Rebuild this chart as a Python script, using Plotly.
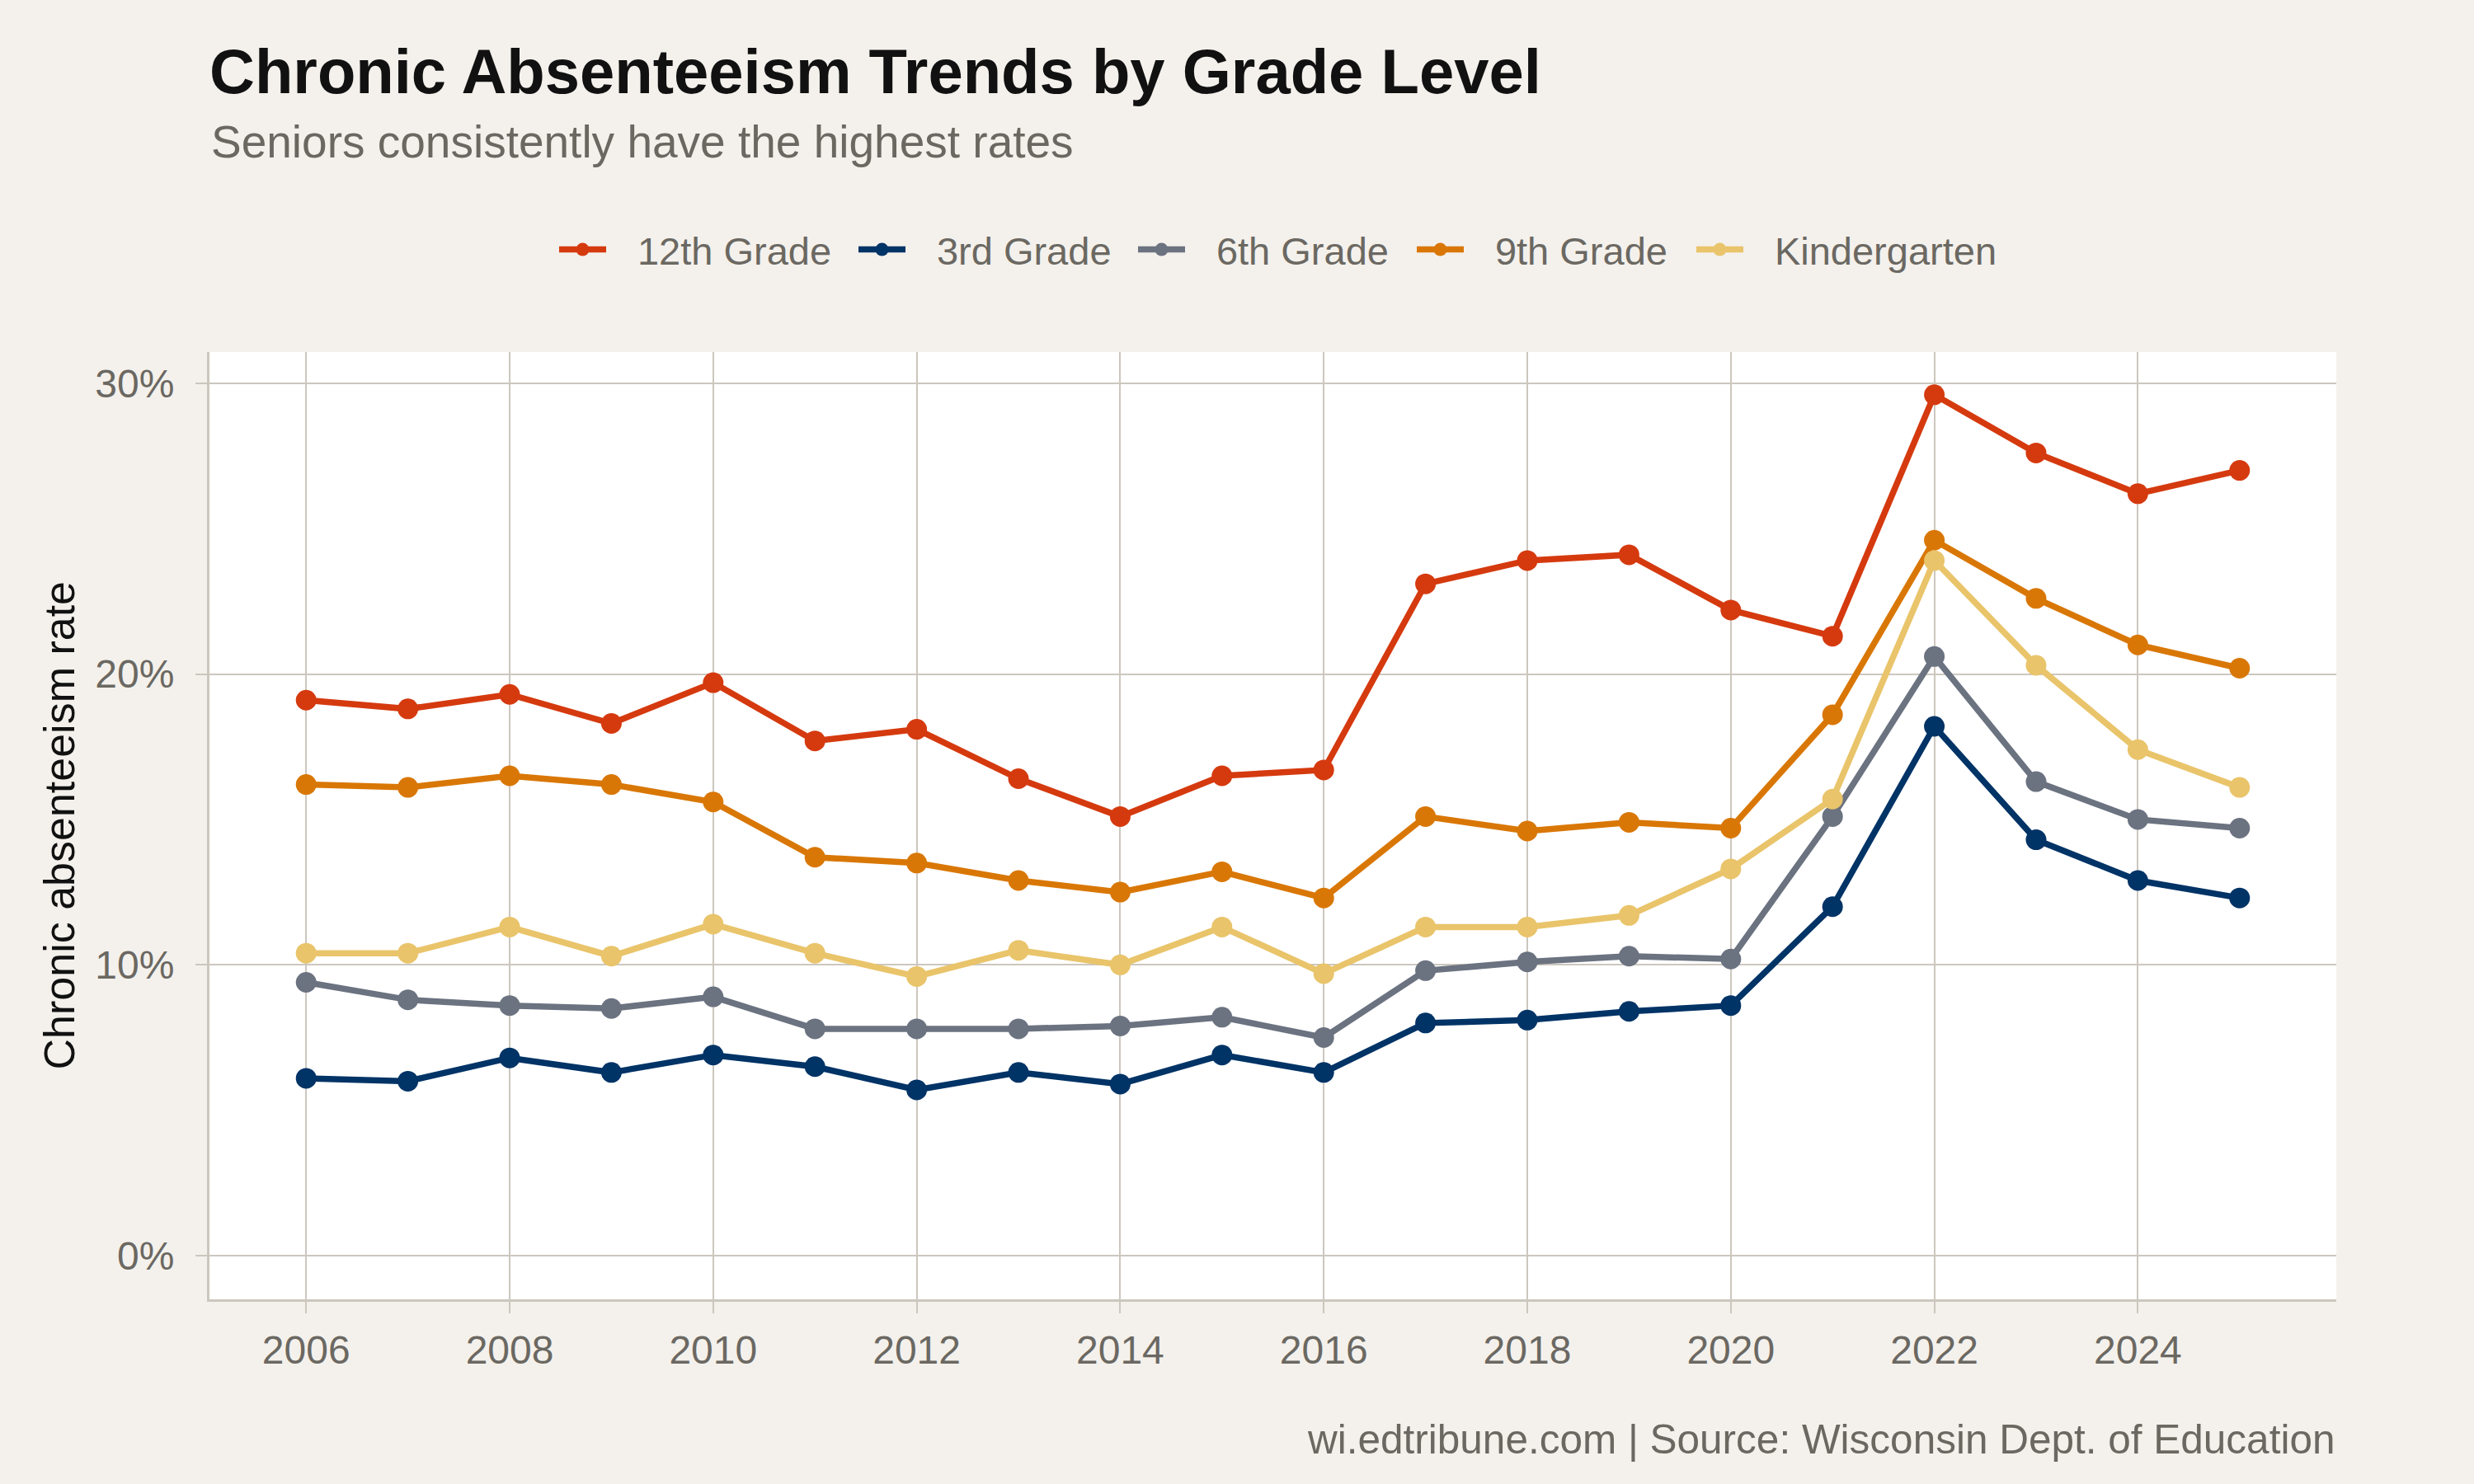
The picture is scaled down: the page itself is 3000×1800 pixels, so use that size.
import plotly.graph_objects as go

years = list(range(2006, 2026))

grade_12 = [19.1, 18.8, 19.3, 18.3, 19.7, 17.7, 18.1, 16.4, 15.1, 16.5,
            16.7, 23.1, 23.9, 24.1, 22.2, 21.3, 29.6, 27.6, 26.2, 27.0]
grade_3 = [6.1, 6.0, 6.8, 6.3, 6.9, 6.5, 5.7, 6.3, 5.9, 6.9,
           6.3, 8.0, 8.1, 8.4, 8.6, 12.0, 18.2, 14.3, 12.9, 12.3]
grade_6 = [9.4, 8.8, 8.6, 8.5, 8.9, 7.8, 7.8, 7.8, 7.9, 8.2,
           7.5, 9.8, 10.1, 10.3, 10.2, 15.1, 20.6, 16.3, 15.0, 14.7]
grade_9 = [16.2, 16.1, 16.5, 16.2, 15.6, 13.7, 13.5, 12.9, 12.5, 13.2,
           12.3, 15.1, 14.6, 14.9, 14.7, 18.6, 24.6, 22.6, 21.0, 20.2]
kindergarten = [10.4, 10.4, 11.3, 10.3, 11.4, 10.4, 9.6, 10.5, 10.0, 11.3,
                9.7, 11.3, 11.3, 11.7, 13.3, 15.7, 23.9, 20.3, 17.4, 16.1]

series_names = ["12th Grade", "3rd Grade", "6th Grade", "9th Grade", "Kindergarten"]
series_values = [grade_12, grade_3, grade_6, grade_9, kindergarten]
series_colors = ["#D53A0F", "#003366", "#6B7280", "#D97706", "#E9C46A"]

x_tick_vals = [2006, 2008, 2010, 2012, 2014, 2016, 2018, 2020, 2022, 2024]
y_tick_vals = [0, 10, 20, 30]
y_tick_text = ["0%", "10%", "20%", "30%"]

title_text = "<b>Chronic Absenteeism Trends by Grade Level</b>"
subtitle_text = "Seniors consistently have the highest rates"
y_title_text = "Chronic absenteeism rate"
caption_text = "wi.edtribune.com | Source: Wisconsin Dept. of Education"

BG = "#F4F1EC"
GRID = "#CCC7BE"
TXT_GRAY = "#6B6862"
FONT = "Liberation Sans, Arial, Helvetica, sans-serif"

W, H = 3000, 1800
L, R, T, B = 254, 167, 427, 224

pw = W - L - R
ph = H - T - B


def px_x(px):
    return (px - L) / pw


def px_y(py):
    return (H - B - py) / ph


# left pixel edge of each legend key in the reference
legend_key_px = [679, 1042, 1381, 1719, 2058]
legend_ids = ["legend", "legend2", "legend3", "legend4", "legend5"]
KEY_GAP = "\u2002\u2009"  # spacing between legend key and label

fig = go.Figure()
for name, vals, col, lid in zip(series_names, series_values, series_colors, legend_ids):
    fig.add_trace(go.Scatter(
        x=years, y=vals, name=KEY_GAP + name, mode="lines+markers",
        line=dict(color=col, width=7.5),
        marker=dict(color=col, size=25),
        legend=lid,
    ))

legend_layout = {}
for lid, kx in zip(legend_ids, legend_key_px):
    legend_layout[lid] = dict(
        orientation="h",
        x=px_x(kx - 6), xanchor="left",
        y=px_y(303), yanchor="middle",
        font=dict(family=FONT, size=47, color=TXT_GRAY),
        bgcolor="rgba(0,0,0,0)",
        borderwidth=0,
        itemwidth=57,
    )

fig.update_layout(
    width=W, height=H,
    margin=dict(l=L, r=R, t=T, b=B, pad=0),
    paper_bgcolor=BG,
    plot_bgcolor="white",
    font=dict(family=FONT, color=TXT_GRAY, size=48),
    title=dict(
        text=title_text,
        font=dict(family=FONT, size=76, color="#111111"),
        xref="paper", x=0, xanchor="left",
        yref="container", y=1 - 86 / H, yanchor="middle",
    ),
    showlegend=True,
    xaxis=dict(
        range=[2005.05, 2025.95],
        tickvals=x_tick_vals,
        showgrid=True, gridcolor=GRID, gridwidth=2,
        zeroline=False,
        showline=True, linecolor=GRID, linewidth=3,
        ticks="outside", ticklen=14, tickwidth=2, tickcolor=GRID,
        tickfont=dict(family=FONT, size=48, color=TXT_GRAY),
        ticklabelstandoff=3,
        fixedrange=True,
    ),
    yaxis=dict(
        range=[-1.5, 31.07],
        tickvals=y_tick_vals,
        ticktext=y_tick_text,
        showgrid=True, gridcolor=GRID, gridwidth=2,
        zeroline=False,
        showline=True, linecolor=GRID, linewidth=3,
        ticks="outside", ticklen=14, tickwidth=2, tickcolor=GRID,
        tickfont=dict(family=FONT, size=48, color=TXT_GRAY),
        ticklabelstandoff=16,
        fixedrange=True,
    ),
    annotations=[
        dict(
            text=subtitle_text, showarrow=False,
            xref="paper", x=0, xanchor="left",
            yref="paper", y=px_y(172), yanchor="middle",
            font=dict(family=FONT, size=55, color=TXT_GRAY),
        ),
        dict(
            text=y_title_text, showarrow=False, textangle=-90,
            xref="paper", x=px_x(71), xanchor="center",
            yref="paper", y=0.5, yanchor="middle",
            font=dict(family=FONT, size=52, color="#111111"),
        ),
        dict(
            text=caption_text, showarrow=False,
            xref="paper", x=1, xanchor="right",
            yref="paper", y=px_y(1745), yanchor="middle",
            font=dict(family=FONT, size=49.5, color=TXT_GRAY),
        ),
    ],
    **legend_layout,
)

fig.write_html("out.html")
